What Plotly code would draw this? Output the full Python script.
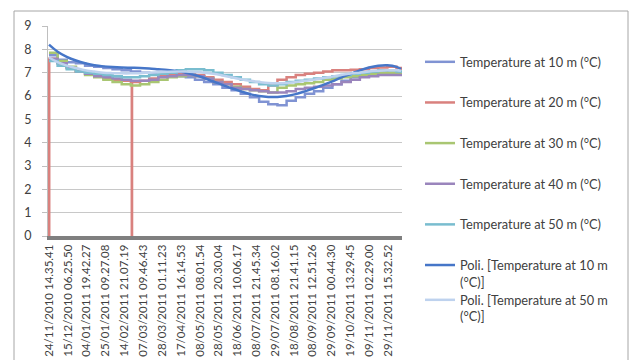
import plotly.graph_objects as go
from datetime import datetime

# ---- data ----
dates = [
    "2010-11-24 14:35", "2010-12-04", "2010-12-14", "2010-12-24", "2011-01-03",
    "2011-01-13", "2011-01-23", "2011-02-02", "2011-02-12", "2011-02-22",
    "2011-03-04", "2011-03-14", "2011-03-24", "2011-04-03", "2011-04-13",
    "2011-04-23", "2011-05-03", "2011-05-13", "2011-05-23", "2011-06-02",
    "2011-06-12", "2011-06-22", "2011-07-02", "2011-07-12", "2011-07-22",
    "2011-08-01", "2011-08-11", "2011-08-21", "2011-08-31", "2011-09-10",
    "2011-09-20", "2011-09-30", "2011-10-10", "2011-10-20", "2011-10-30",
    "2011-11-09", "2011-11-19", "2011-11-29", "2011-12-09", "2011-12-14",
]

t10 = [7.75, 7.55, 7.45, 7.4, 7.3, 7.25, 7.2, 7.15, 7.1, 7.05,
       7.0, 6.95, 6.9, 6.9, 6.85, 6.8, 6.7, 6.6, 6.5, 6.35,
       6.25, 6.1, 5.95, 5.75, 5.65, 5.6, 5.8, 5.95, 6.1, 6.2,
       6.35, 6.5, 6.65, 6.8, 6.9, 7.0, 7.05, 7.0, 6.95, 6.9]

t30 = [7.85, 7.5, 7.25, 7.05, 6.9, 6.8, 6.7, 6.6, 6.5, 6.45,
       6.5, 6.6, 6.7, 6.8, 6.85, 6.9, 6.85, 6.75, 6.6, 6.5,
       6.4, 6.3, 6.25, 6.2, 6.15, 6.35, 6.45, 6.5, 6.55, 6.6,
       6.7, 6.75, 6.8, 6.85, 6.9, 6.95, 7.0, 7.0, 6.95, 6.9]

t40 = [7.6, 7.4, 7.2, 7.05, 6.95, 6.85, 6.8, 6.75, 6.7, 6.65,
       6.65, 6.7, 6.8, 6.85, 6.9, 6.9, 6.85, 6.75, 6.6, 6.5,
       6.35, 6.3, 6.25, 6.2, 6.15, 6.15, 6.2, 6.3, 6.35, 6.4,
       6.45, 6.5, 6.6, 6.7, 6.8, 6.85, 6.9, 6.9, 6.9, 6.85]

t50 = [7.5, 7.3, 7.15, 7.05, 7.0, 6.95, 6.9, 6.85, 6.8, 6.8,
       6.85, 6.9, 6.95, 7.0, 7.1, 7.15, 7.15, 7.1, 7.0, 6.9,
       6.8, 6.7, 6.6, 6.5, 6.45, 6.5, 6.6, 6.65, 6.7, 6.75,
       6.8, 6.85, 6.9, 6.95, 7.0, 7.05, 7.1, 7.1, 7.05, 7.0]

poly10 = [8.2, 7.9, 7.68, 7.52, 7.4, 7.32, 7.27, 7.24, 7.22, 7.21,
          7.2, 7.18, 7.15, 7.12, 7.07, 7.0, 6.9, 6.77, 6.62, 6.48,
          6.33, 6.2, 6.08, 6.0, 5.96, 5.96, 6.0, 6.08, 6.2, 6.33,
          6.48, 6.63, 6.8, 6.95, 7.1, 7.22, 7.3, 7.32, 7.25, 7.15]

poly50 = [7.65, 7.45, 7.3, 7.2, 7.1, 7.05, 7.0, 6.98, 6.97, 6.97,
          6.98, 7.0, 7.02, 7.04, 7.05, 7.05, 7.03, 7.0, 6.95, 6.88,
          6.8, 6.72, 6.65, 6.6, 6.56, 6.55, 6.56, 6.6, 6.65, 6.7,
          6.77, 6.83, 6.9, 6.96, 7.0, 7.05, 7.08, 7.1, 7.1, 7.08]

dates20 = [
    "2010-11-24 14:35", "2010-11-24 20:00", "2010-12-04", "2010-12-14", "2010-12-24",
    "2011-01-03", "2011-01-13", "2011-01-23", "2011-02-02", "2011-02-12",
    "2011-02-22", "2011-02-23 00:00", "2011-02-23 06:00", "2011-03-04", "2011-03-14",
    "2011-03-24", "2011-04-03", "2011-04-13", "2011-04-23", "2011-05-03",
    "2011-05-13", "2011-05-23", "2011-06-02", "2011-06-12", "2011-06-22",
    "2011-07-02", "2011-07-12", "2011-07-22", "2011-08-01", "2011-08-11",
    "2011-08-21", "2011-08-31", "2011-09-10", "2011-09-20", "2011-09-30",
    "2011-10-10", "2011-10-20", "2011-10-30", "2011-11-09", "2011-11-19",
    "2011-11-29", "2011-12-09", "2011-12-14",
]
t20 = [0.0, 7.6, 7.4, 7.2, 7.05, 6.95, 6.85, 6.75, 6.7, 6.65,
       6.6, 0.0, 6.6, 6.65, 6.75, 6.85, 6.9, 6.95, 6.95, 6.9,
       6.8, 6.7, 6.6, 6.5, 6.4, 6.3, 6.25, 6.45, 6.7, 6.8,
       6.9, 6.95, 7.0, 7.05, 7.1, 7.1, 7.12, 7.15, 7.2, 7.22,
       7.25, 7.2, 7.1]

tick_labels = [
    "24/11/2010 14.35.41", "15/12/2010 06.25.50", "04/01/2011 19.42.27",
    "25/01/2011 09.27.08", "14/02/2011 21.07.19", "07/03/2011 09.46.43",
    "28/03/2011 01.11.23", "17/04/2011 16.14.53", "08/05/2011 08.01.54",
    "28/05/2011 20.30.04", "18/06/2011 10.06.17", "08/07/2011 21.45.34",
    "29/07/2011 08.16.02", "18/08/2011 21.41.15", "08/09/2011 12.51.26",
    "29/09/2011 00.44.30", "19/10/2011 13.29.45", "09/11/2011 02.29.00",
    "29/11/2011 15.32.52",
]
tick_vals = [datetime.strptime(s, "%d/%m/%Y %H.%M.%S").strftime("%Y-%m-%d %H:%M:%S")
             for s in tick_labels]

FONT = "Lato"
TXT = "#404040"

fig = go.Figure()

def add(x, y, name, color, width, shape="hv", legend="legend"):
    fig.add_trace(go.Scatter(x=x, y=y, name=name, mode="lines",
                             line=dict(color=color, width=width, shape=shape),
                             legendgroup=name, legend=legend))

add(dates, t10, "Temperature at 10 m (°C)", "#8093D3", 2.5)
add(dates20, t20, "Temperature at 20 m (°C)", "#D9817E", 2.5)
add(dates, t30, "Temperature at 30 m (°C)", "#A9C672", 2.5)
add(dates, t40, "Temperature at 40 m (°C)", "#9A85BC", 2.5)
add(dates, t50, "Temperature at 50 m (°C)", "#79BDCF", 2.5)
add(dates, poly10, "Poli. [Temperature at 10 m<br>(°C)]", "#4676C8", 2.5, "spline")
add(dates, poly50, "Poli. [Temperature at 50 m<br>(°C)]", "#BED2EE", 2.5, "spline",
    legend="legend2")

L, R, T, B = 48, 229, 26, 124
W, H = 631 - L - R, 360 - T - B

legend_common = dict(x=(420 - L) / W, xanchor="left", yanchor="top",
                     font=dict(family=FONT, size=12.8, color=TXT), maxheight=340,
                     tracegroupgap=21, valign="top", bgcolor="rgba(0,0,0,0)")

fig.update_layout(
    width=631, height=360,
    margin=dict(l=L, r=R, t=T, b=B, pad=0, autoexpand=False),
    paper_bgcolor="white", plot_bgcolor="white",
    font=dict(family=FONT, size=11, color=TXT),
    showlegend=True,
    legend=dict(y=(236 - 47) / H, **legend_common),
    legend2=dict(y=(236 - 285) / H, **legend_common),
    xaxis=dict(type="date", range=["2010-11-23 12:00", "2011-12-15 00:00"],
               tickvals=tick_vals, ticktext=tick_labels, tickangle=-90,
               showgrid=False, showline=True, linecolor="#7F7F7F", linewidth=4,
               ticks="", tickfont=dict(family=FONT, size=11.5, color=TXT),
               zeroline=False, automargin=False),
    yaxis=dict(range=[0, 9], dtick=1, showgrid=True, gridcolor="#C8C8C8", gridwidth=1,
               showline=True, linecolor="#BFBFBF", linewidth=1,
               ticks="outside", ticklen=5, tickcolor="#BFBFBF", ticklabelstandoff=8,
               tickfont=dict(family=FONT, size=12.5, color=TXT), zeroline=False,
               automargin=False),
    shapes=[dict(type="rect", xref="paper", yref="paper",
                 x0=(14 - L) / W, x1=(628 - L) / W,
                 y0=(236 - 370) / H, y1=(236 - 11) / H,
                 line=dict(color="#A6A6A6", width=1), fillcolor="rgba(0,0,0,0)",
                 layer="below")],
)

fig.write_html("out.html", config={"displayModeBar": False},
               post_script="document.body.style.margin='0';document.body.style.overflow='hidden';")
